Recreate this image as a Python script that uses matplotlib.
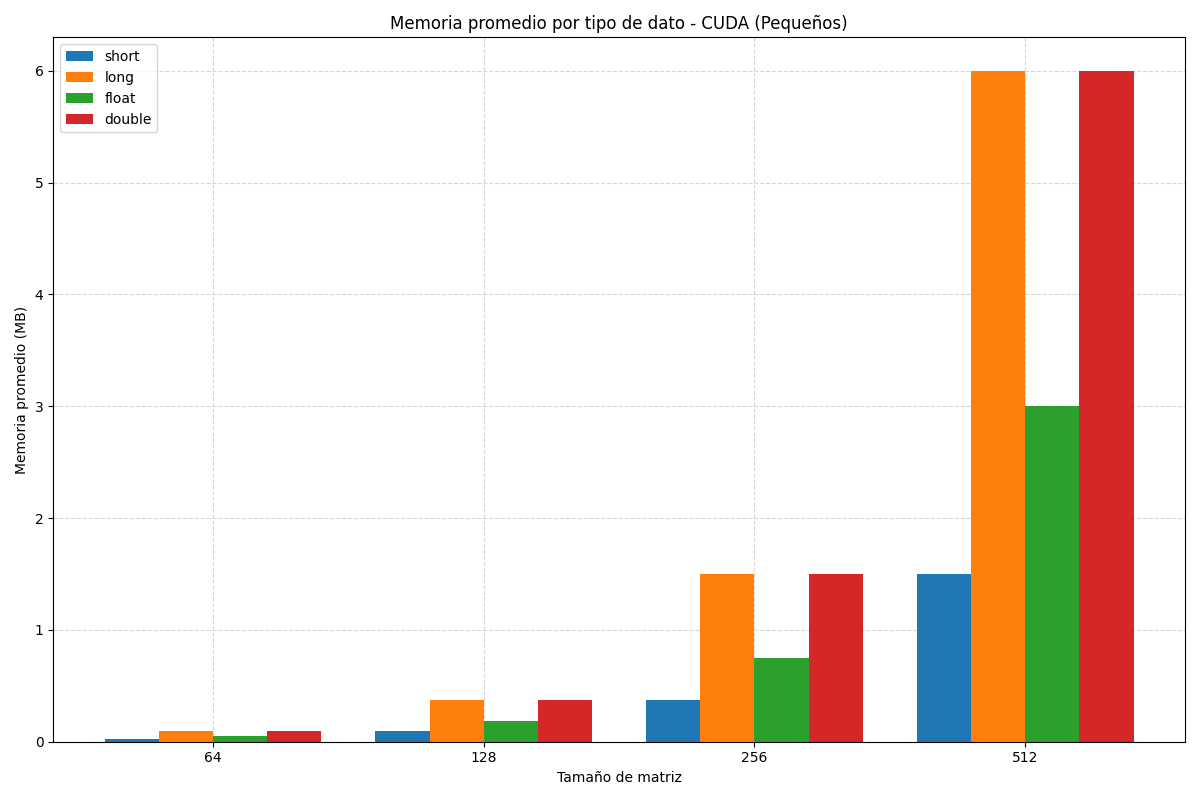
import numpy as np
import matplotlib.pyplot as plt

sizes = ['64', '128', '256', '512']
tipos = ['short', 'long', 'float', 'double']
mem_short = [0.0234375, 0.09375, 0.375, 1.5]
mem_long = [0.09375, 0.375, 1.5, 6.0]
mem_float = [0.046875, 0.1875, 0.75, 3.0]
mem_double = [0.09375, 0.375, 1.5, 6.0]

series = [mem_short, mem_long, mem_float, mem_double]

x = np.arange(len(sizes))
width = 0.2

fig, ax = plt.subplots(figsize=(12, 8), dpi=100)
for i, (name, vals) in enumerate(zip(tipos, series)):
    ax.bar(x + (i - 1.5) * width, vals, width, label=name)

ax.set_xticks(x)
ax.set_xticklabels(sizes)
ax.set_xlabel('Tamaño de matriz')
ax.set_ylabel('Memoria promedio (MB)')
ax.set_title('Memoria promedio por tipo de dato - CUDA (Pequeños)')
ax.legend(loc='upper left')
ax.grid(True, linestyle='--', alpha=0.5)
ax.set_axisbelow(True)

plt.tight_layout()
plt.savefig('out.png')
